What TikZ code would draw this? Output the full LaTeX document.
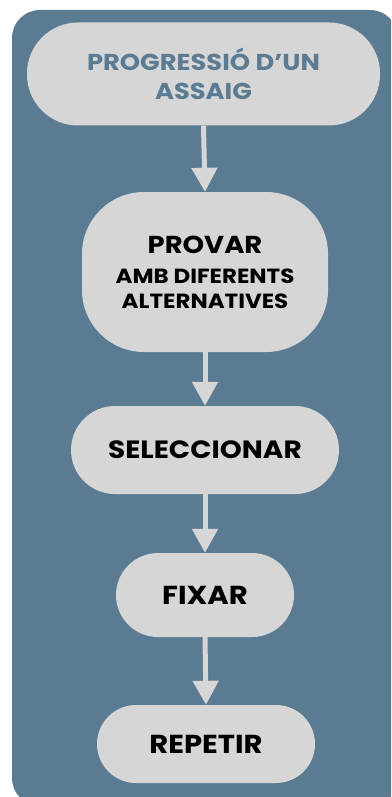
\documentclass[tikz,border=0pt]{standalone}
\usepackage{fontspec}
\setmainfont{Poppins}[BoldFont={* Bold}, FakeStretch=1.12]
\usetikzlibrary{arrows.meta}
\definecolor{panelblue}{HTML}{5B7B92}
\definecolor{boxgray}{HTML}{D6D6D6}
\begin{document}
\begin{tikzpicture}[x=1pt,y=-1pt,
  stepbox/.style={fill=boxgray, draw=none, inner sep=0pt, align=center,
    font=\bfseries\fontsize{26}{30}\selectfont, text=black},
  flow/.style={draw=boxgray, line width=5pt,
    -{Triangle[length=24pt,width=25pt]}}]
  \useasboundingbox (0,0) rectangle (391,797);
  \clip (0,0) rectangle (391,797);
  % background panel
  \fill[panelblue, rounded corners=28pt] (12,10) rectangle (398,806);

  % boxes
  \node[stepbox, minimum width=353pt, minimum height=103pt, rounded corners=51pt,
        text=panelblue, font=\bfseries\fontsize{23}{29}\selectfont]
    (title) at (203.5,74) {PROGRESSIÓ D’UN\\ASSAIG};
  \node[stepbox, minimum width=246pt, minimum height=160pt, rounded corners=62pt,
        font=\bfseries\fontsize{20.5}{25}\selectfont]
    (provar) at (205,272) {{\fontsize{24.5}{30}\selectfont PROVAR}\\[5pt]AMB DIFERENTS\\ALTERNATIVES};
  \node[stepbox, minimum width=268pt, minimum height=88pt, rounded corners=44pt,
        font=\bfseries\fontsize{25}{30}\selectfont]
    (sel) at (205,450) {SELECCIONAR};
  \node[stepbox, minimum width=178pt, minimum height=84pt, rounded corners=42pt]
    (fix) at (205,595) {FIXAR};
  \node[stepbox, minimum width=218pt, minimum height=78pt, rounded corners=39pt]
    (rep) at (206,744) {REPETIR};

  % connectors
  \draw[flow] (title.south) -- (provar.north);
  \draw[flow] (provar.south) -- (sel.north);
  \draw[flow] (sel.south) -- (fix.north);
  \draw[flow] (fix.south) -- (rep.north);
\end{tikzpicture}
\end{document}
